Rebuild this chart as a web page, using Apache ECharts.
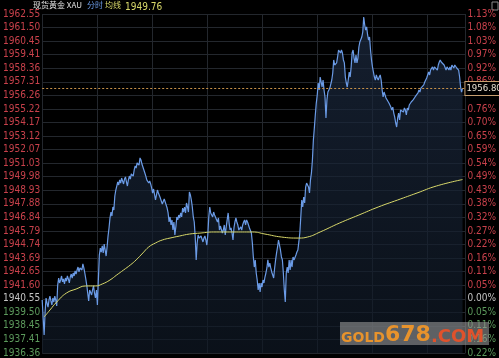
<!DOCTYPE html>
<html><head><meta charset="utf-8">
<script src="https://cdn.jsdelivr.net/npm/echarts@6/dist/echarts.min.js"></script>
<style>html,body{margin:0;padding:0;background:#000;}#c{width:499px;height:358px;}</style>
</head><body><div id="c"></div>
<script>
// ---- data ----
const symbolName = '现货黄金 XAU';
const basePrice = 1940.55;
const lastPrice = 1956.80;
const avgLast = 1949.76;
const yMin = 1936.36, yMax = 1962.55;
const priceLabels = ['1936.36','1937.41','1938.45','1939.50','1940.55','1941.60','1942.65','1943.69','1944.74','1945.79','1946.84','1947.88','1948.93','1949.98','1951.03','1952.07','1953.12','1954.17','1955.22','1956.26','1957.31','1958.36','1959.41','1960.45','1961.50','1962.55'];
const pctLabels = ['0.22%','0.16%','0.11%','0.05%','0.00%','0.05%','0.11%','0.16%','0.22%','0.27%','0.32%','0.38%','0.43%','0.49%','0.54%','0.59%','0.65%','0.70%','0.76%','','0.86%','0.92%','0.97%','1.03%','1.08%','1.13%'];
// one price per minute
const minutePrices = [
1940.45,1939.06,1937.75,1939.53,1940.61,1940.22,1939.91,1940.45,1940.76,1940.38,1940.07,1940.61,1940.30,1940.76,1940.45,
1939.99,1941.61,1942.15,1941.77,1942.00,1942.31,1941.85,1942.08,1941.69,1942.15,1941.92,1942.31,1942.08,1941.77,1942.23,
1942.46,1942.15,1942.54,1942.31,1942.70,1942.46,1942.77,1943.00,1942.62,1942.93,1943.08,1942.77,1943.24,1942.93,1942.54,
1942.08,1941.61,1940.99,1940.38,1941.23,1941.38,1940.84,1941.23,1941.54,1940.99,1940.61,1941.23,1940.07,1942.00,1943.93,
1944.47,1944.16,1944.63,1944.09,1944.78,1944.32,1943.85,1944.55,1945.40,1946.02,1946.79,1947.25,1946.94,1947.64,1947.41,
1948.49,1948.95,1949.26,1949.57,1949.34,1949.73,1949.49,1949.88,1949.65,1949.42,1949.80,1949.96,1949.57,1949.26,1949.73,
1950.03,1949.80,1950.19,1950.34,1950.03,1950.50,1950.81,1950.65,1951.04,1951.19,1950.88,1951.43,1951.27,1950.96,1950.73,
1950.50,1950.27,1950.03,1949.73,1949.88,1949.49,1949.65,1949.42,1949.11,1948.72,1949.03,1948.95,1948.18,1948.57,1948.95,
1948.72,1948.57,1948.33,1948.18,1947.87,1947.95,1948.26,1948.03,1947.79,1947.56,1947.18,1946.48,1946.87,1946.25,1946.64,
1945.86,1946.48,1945.48,1946.10,1946.87,1946.64,1947.02,1946.79,1947.18,1946.87,1947.56,1947.25,1947.64,1947.18,1947.95,
1947.64,1947.25,1948.80,1948.57,1948.18,1947.64,1946.87,1946.48,1945.32,1943.55,1944.86,1945.48,1945.24,1945.09,1945.40,
1945.32,1944.94,1945.24,1945.40,1945.09,1944.70,1945.48,1946.87,1947.64,1947.18,1947.25,1946.87,1947.25,1947.02,1946.87,
1947.02,1946.48,1946.79,1945.86,1946.17,1946.02,1945.63,1945.86,1946.25,1945.48,1946.10,1946.64,1947.18,1946.40,1945.86,
1946.02,1945.63,1945.09,1946.02,1946.48,1946.79,1946.48,1946.25,1945.86,1945.71,1946.10,1945.86,1946.25,1946.48,1946.64,
1946.25,1946.64,1946.48,1946.25,1946.02,1946.10,1945.63,1944.86,1943.78,1943.00,1943.55,1942.54,1942.00,1941.23,1941.77,
1941.07,1941.77,1941.46,1942.00,1941.77,1942.23,1942.54,1942.93,1943.55,1943.00,1943.31,1942.93,1942.62,1942.54,1942.15,
1942.93,1943.55,1944.09,1944.55,1945.09,1944.94,1944.32,1943.78,1943.55,1942.54,1941.23,1940.30,1942.54,1943.00,1942.54,
1943.55,1942.77,1943.55,1943.00,1943.78,1943.55,1943.70,1943.93,1944.16,1944.32,1944.94,1945.63,1946.87,1948.18,1947.64,
1948.41,1947.95,1949.18,1949.49,1949.57,1949.18,1948.72,1949.73,1950.27,1951.27,1952.82,1953.74,1954.75,1955.67,1956.29,
1957.22,1956.68,1957.68,1957.30,1956.91,1957.45,1956.68,1956.14,1954.51,1955.91,1956.52,1956.45,1956.83,1956.68,1957.45,
1957.99,1959.00,1958.61,1958.46,1958.77,1959.23,1959.77,1959.92,1959.54,1959.77,1959.54,1959.00,1958.77,1957.68,1957.22,
1956.91,1957.45,1958.07,1957.68,1958.46,1959.54,1959.77,1959.15,1958.77,1959.38,1958.77,1959.15,1960.00,1960.39,1960.54,
1960.77,1961.16,1962.32,1961.70,1961.31,1961.55,1960.93,1960.54,1960.77,1959.77,1959.00,1958.46,1958.07,1957.68,1957.45,
1957.84,1957.61,1957.45,1957.68,1957.84,1957.45,1956.68,1956.14,1956.52,1956.29,1956.06,1956.14,1955.91,1955.67,1955.75,
1955.36,1955.13,1955.36,1954.90,1954.59,1954.13,1953.82,1954.51,1954.90,1954.36,1955.13,1954.98,1955.13,1954.98,1955.29,
1955.13,1954.75,1955.29,1955.13,1955.52,1955.67,1955.75,1955.67,1955.91,1956.06,1956.14,1956.29,1956.14,1956.45,1956.68,
1956.52,1956.83,1956.91,1956.68,1957.07,1957.30,1957.22,1957.61,1957.68,1958.07,1957.84,1958.22,1958.07,1958.46,1958.22,
1958.46,1958.38,1958.61,1958.22,1958.61,1958.84,1959.00,1958.84,1958.77,1958.84,1958.61,1958.46,1958.22,1958.46,1958.38,
1958.22,1958.46,1958.22,1958.61,1958.46,1958.38,1958.61,1958.46,1958.38,1958.46,1958.22,1957.68,1956.91,1956.52,1956.80
];
const avgMinutes = [2,8,15,25,35,45,55,62,70,77,84,91,97,104,110,117,124,132,142,152,164,177,197,217,230,247,265,274,287,307,327,347,367,387,407,434];
const avgPrices = [1939.14,1939.68,1940.30,1940.99,1941.30,1941.54,1941.54,1941.69,1942.00,1942.39,1942.77,1943.16,1943.55,1944.09,1944.55,1944.86,1945.09,1945.24,1945.40,1945.55,1945.63,1945.71,1945.71,1945.71,1945.55,1945.32,1945.24,1945.32,1945.71,1946.40,1947.02,1947.64,1948.18,1948.72,1949.26,1949.76];
const sessionMinutes = 437;
const gridStep = 56.75;

// ---- chart ----
const yStep = (yMax - yMin) / (priceLabels.length - 1);
const idxOf = v => Math.round((v - yMin) / yStep);
const baseIdx = priceLabels.indexOf(basePrice.toFixed(2));
const labelColor = v => { const i = idxOf(v); return i > baseIdx ? '#c8414b' : (i === baseIdx ? '#c4c4c4' : '#5c9a5c'); };
const numFont = "'Liberation Sans Narrow','DejaVu Sans Condensed','Liberation Sans',sans-serif";

const chart = echarts.init(document.getElementById('c'), null, {renderer: 'canvas'});
chart.setOption({
  backgroundColor: '#000',
  animation: false,
  grid: {left: 33, right: 29, top: 14, bottom: 5},
  xAxis: {
    type: 'value', min: 0, max: sessionMinutes, interval: gridStep,
    axisLine: {show: false}, axisTick: {show: false}, axisLabel: {show: false},
    splitLine: {show: true, lineStyle: {color: '#23272d', width: 1}}
  },
  yAxis: [{
    type: 'value', min: yMin, max: yMax, interval: yStep, position: 'left',
    axisLine: {show: false}, axisTick: {show: false},
    splitLine: {show: true, lineStyle: {color: '#23272d', width: 1}},
    axisLabel: {margin: 2, fontSize: 10, fontFamily: numFont, color: labelColor,
      formatter: v => priceLabels[idxOf(v)]}
  }, {
    type: 'value', min: yMin, max: yMax, interval: yStep, position: 'right',
    axisLine: {show: false}, axisTick: {show: false}, splitLine: {show: false},
    axisLabel: {margin: 2, fontSize: 10, fontFamily: numFont, color: labelColor,
      formatter: v => pctLabels[idxOf(v)]}
  }],
  series: [{
    type: 'line', name: '分时', showSymbol: false, symbol: 'none',
    data: minutePrices.map((p, i) => [i, p]),
    lineStyle: {color: '#6b9be6', width: 1.2},
    areaStyle: {origin: 'start', color: new echarts.graphic.LinearGradient(0, 0, 0, 1, [
      {offset: 0, color: '#1d2b42'}, {offset: 1, color: '#0f1824'}])},
    z: 3,
    markLine: {
      silent: true, symbol: 'none',
      lineStyle: {color: '#c8924a', type: [2, 2], width: 1},
      label: {show: true, position: 'end', distance: 0, formatter: lastPrice.toFixed(2),
        color: '#e8e0d0', backgroundColor: '#000', borderColor: '#c8a070', borderWidth: 1,
        padding: [2, 0, 1, 1], fontSize: 9.5, fontFamily: numFont},
      data: [{yAxis: lastPrice}]
    }
  }, {
    type: 'line', name: '均线', showSymbol: false, symbol: 'none', smooth: true,
    data: avgMinutes.map((m, i) => [m, avgPrices[i]]),
    lineStyle: {color: '#d8d86a', width: 1}, z: 4
  }],
  graphic: [
    {type: 'text', left: 33, top: 1, style: {text: symbolName, fill: '#e0e0e0', font: "8px 'Noto Sans CJK SC'"}},
    {type: 'text', left: 87, top: 1, style: {text: '分时', fill: '#6b9be6', font: "8px 'Noto Sans CJK SC'"}},
    {type: 'text', left: 105, top: 1, style: {text: '均线', fill: '#d8d86a', font: "8px 'Noto Sans CJK SC'"}},
    {type: 'text', left: 125, top: 2, style: {text: avgLast.toFixed(2), fill: '#d8d86a', font: "10px " + numFont}},
    {type: 'rect', shape: {x: 492, y: 2, width: 6, height: 8}, style: {fill: 'none', stroke: '#8a8a8a', lineWidth: 1}},
    {type: 'rect', shape: {x: 340, y: 322, width: 149, height: 23}, style: {fill: 'rgba(150,150,150,0.6)'}, z: 100},
    {type: 'text', x: 341, y: 345, z: 101, style: {text: 'GOLD', fill: '#e8932c', font: "bold 14px 'DejaVu Sans'", verticalAlign: 'bottom'}},
    {type: 'text', x: 385, y: 346, z: 101, style: {text: '678', fill: '#e8932c', font: "bold 22px 'DejaVu Sans'", verticalAlign: 'bottom'}},
    {type: 'text', x: 431, y: 346, z: 101, style: {text: '.COM', fill: '#e0522c', font: "bold 18px 'DejaVu Sans'", verticalAlign: 'bottom'}}
  ]
});
</script></body></html>
